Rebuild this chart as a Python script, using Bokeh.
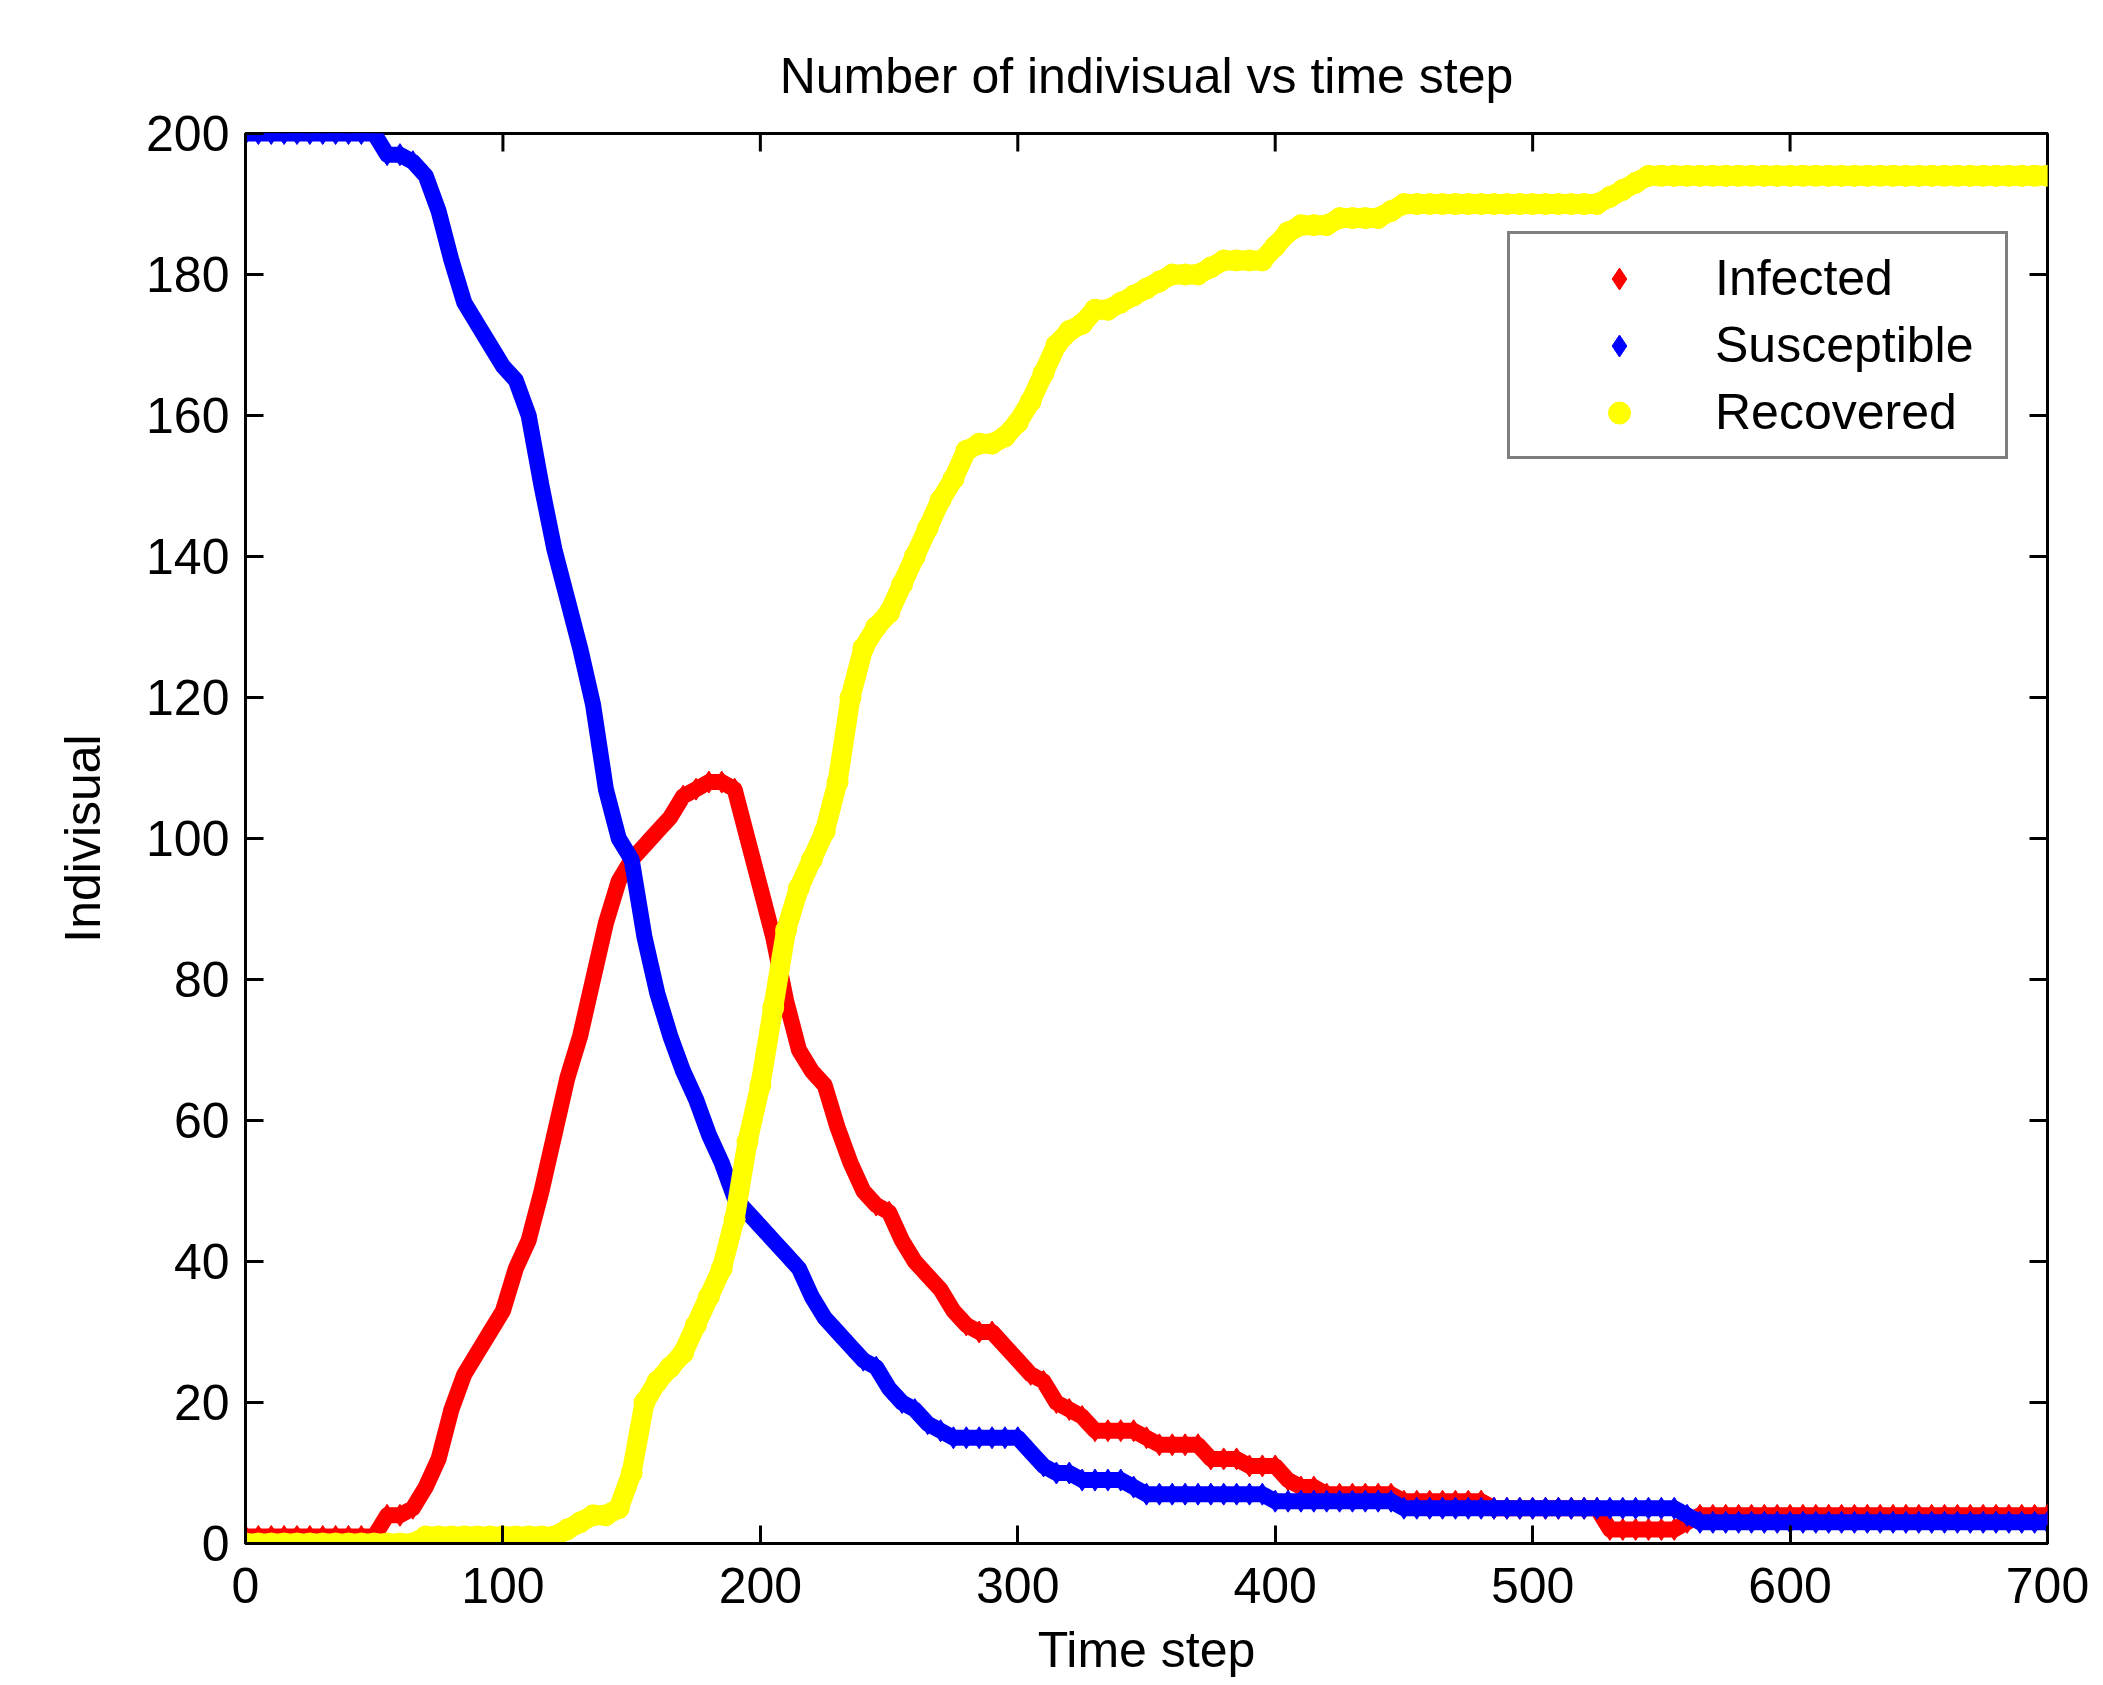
import math
from bokeh.plotting import figure
from bokeh.models import (Range1d, LinearAxis, FixedTicker, Legend,
                          LegendItem, ColumnDataSource)
from bokeh.embed import file_html
from bokeh.resources import INLINE

# ---------------- data ----------------
time_step = list(range(0, 701, 5))

infected = [
    1, 1, 1, 1, 1, 1, 1, 1, 1, 1,                 # 0-45
    1, 4, 4, 5, 8, 12, 19, 24, 27, 30,            # 50-95
    33, 39, 43, 50, 58, 66, 72, 80, 88, 94,       # 100-145
    97, 99, 101, 103, 106, 107, 108, 108, 107, 100,  # 150-195
    93, 86, 77, 70, 67, 65, 59, 54, 50, 48,       # 200-245
    47, 43, 40, 38, 36, 33, 31, 30, 30, 28,       # 250-295
    26, 24, 23, 20, 19, 18, 16, 16, 16, 16,       # 300-345
    15, 14, 14, 14, 14, 12, 12, 12, 11, 11,       # 350-395
    11, 9, 8, 8, 7, 7, 7, 7, 7, 7,                # 400-445
    6, 6, 6, 6, 6, 6, 6, 5, 5, 5,                 # 450-495
    5, 5, 5, 5, 5, 5, 2, 2, 2, 2,                 # 500-545
    2, 2, 3, 4, 4, 4, 4, 4, 4, 4,                 # 550-595
    4, 4, 4, 4, 4, 4, 4, 4, 4, 4,                 # 600-645
    4, 4, 4, 4, 4, 4, 4, 4, 4, 4,                 # 650-695
    4,                                            # 700
]

susceptible = [
    200, 200, 200, 200, 200, 200, 200, 200, 200, 200,
    200, 197, 197, 196, 194, 189, 182, 176, 173, 170,
    167, 165, 160, 150, 141, 134, 127, 119, 107, 100,
    97, 86, 78, 72, 67, 63, 58, 54, 49, 47,
    45, 43, 41, 39, 35, 32, 30, 28, 26, 25,
    22, 20, 19, 17, 16, 15, 15, 15, 15, 15,
    15, 13, 11, 10, 10, 9, 9, 9, 9, 8,
    7, 7, 7, 7, 7, 7, 7, 7, 7, 7,
    6, 6, 6, 6, 6, 6, 6, 6, 6, 6,
    5, 5, 5, 5, 5, 5, 5, 5, 5, 5,
    5, 5, 5, 5, 5, 5, 5, 5, 5, 5,
    5, 5, 4, 3, 3, 3, 3, 3, 3, 3,
    3, 3, 3, 3, 3, 3, 3, 3, 3, 3,
    3, 3, 3, 3, 3, 3, 3, 3, 3, 3,
    3,
]

recovered = [
    0, 0, 0, 0, 0, 0, 0, 0, 0, 0,
    0, 0, 0, 0, 1, 1, 1, 1, 1, 1,
    1, 1, 1, 1, 1, 2, 3, 4, 4, 5,
    10, 20, 23, 25, 27, 31, 35, 39, 46, 57,
    65, 76, 87, 93, 97, 101, 108, 120, 127, 130,
    132, 136, 140, 144, 148, 151, 155, 156, 156, 157,
    159, 162, 166, 170, 172, 173, 175, 175, 176, 177,
    178, 179, 180, 180, 180, 181, 182, 182, 182, 182,
    184, 186, 187, 187, 187, 188, 188, 188, 188, 189,
    190, 190, 190, 190, 190, 190, 190, 190, 190, 190,
    190, 190, 190, 190, 190, 190, 191, 192, 193, 194,
    194, 194, 194, 194, 194, 194, 194, 194, 194, 194,
    194, 194, 194, 194, 194, 194, 194, 194, 194, 194,
    194, 194, 194, 194, 194, 194, 194, 194, 194, 194,
    194,
]

series_names = ["Infected", "Susceptible", "Recovered"]
x_ticks = [0, 100, 200, 300, 400, 500, 600, 700]
y_ticks = [0, 20, 40, 60, 80, 100, 120, 140, 160, 180, 200]
title_text = "Number of indivisual vs time step"
x_label = "Time step"
y_label = "Indivisual"

assert len(time_step) == len(infected) == len(susceptible) == len(recovered)

# ---------------- styling ----------------
FONT = "Liberation Sans"
FS = "50px"
RED, BLUE, YELLOW = "#ff0000", "#0000ff", "#ffff00"
X0, X1 = x_ticks[0], x_ticks[-1]
Y0, Y1 = y_ticks[0], y_ticks[-1]

p = figure(width=2096, height=1680, output_backend="svg", toolbar_location=None,
           x_range=Range1d(X0, X1), y_range=Range1d(Y0, Y1),
           x_axis_location=None, y_axis_location=None,
           min_border_left=245, min_border_right=49,
           min_border_top=133, min_border_bottom=133)
p.background_fill_color = "white"
p.border_fill_color = "white"
p.outline_line_color = "black"
p.outline_line_width = 3
p.grid.grid_line_color = None

p.title.text = title_text
p.title.text_font = FONT
p.title.text_font_size = FS
p.title.text_font_style = "normal"
p.title.text_color = "black"
p.title.align = "center"
p.title.standoff = 60


def make_axis(ticks, standoff):
    ax = LinearAxis(ticker=FixedTicker(ticks=ticks))
    ax.major_tick_in = 18
    ax.major_tick_out = 0
    ax.minor_tick_in = 0
    ax.minor_tick_out = 0
    ax.axis_line_width = 3
    ax.axis_line_color = "black"
    ax.major_tick_line_width = 3
    ax.major_tick_line_color = "black"
    ax.major_label_text_font = FONT
    ax.major_label_text_color = "black"
    ax.major_label_text_font_size = FS
    ax.major_label_standoff = standoff
    ax.axis_label_text_font = FONT
    ax.axis_label_text_font_size = FS
    ax.axis_label_text_font_style = "normal"
    ax.axis_label_text_color = "black"
    return ax


bottom = make_axis(x_ticks, 24)
bottom.axis_label = x_label
bottom.axis_label_standoff = 16
left = make_axis(y_ticks, 16)
left.axis_label = y_label
left.axis_label_standoff = 32
p.add_layout(bottom, "below")
p.add_layout(left, "left")

# inward tick marks on the top and right edges of the box
p.ray(x=x_ticks, y=[Y1] * len(x_ticks), length=18, length_units="screen",
      angle=-math.pi / 2, line_color="black", line_width=3)
p.ray(x=[X1] * len(y_ticks), y=y_ticks, length=18, length_units="screen",
      angle=math.pi, line_color="black", line_width=3)

src = ColumnDataSource(dict(t=time_step, inf=infected, sus=susceptible, rec=recovered))

p.line("t", "inf", source=src, line_color=RED, line_width=16, line_join="round")
r_inf = p.scatter("t", "inf", source=src, marker="diamond", size=22,
                  fill_color=RED, line_color=RED)
p.line("t", "sus", source=src, line_color=BLUE, line_width=16, line_join="round")
r_sus = p.scatter("t", "sus", source=src, marker="diamond", size=22,
                  fill_color=BLUE, line_color=BLUE)
p.line("t", "rec", source=src, line_color=YELLOW, line_width=20, line_join="round")
r_rec = p.scatter("t", "rec", source=src, marker="circle", size=21,
                  fill_color=YELLOW, line_color=YELLOW)

legend = Legend(items=[LegendItem(label=series_names[0], renderers=[r_inf]),
                       LegendItem(label=series_names[1], renderers=[r_sus]),
                       LegendItem(label=series_names[2], renderers=[r_rec])],
                location=(1262, 1084), orientation="vertical",
                padding=15, spacing=9, margin=0,
                glyph_width=188, glyph_height=55,
                label_standoff=2, label_width=275, label_height=55,
                label_text_font=FONT, label_text_font_size=FS,
                label_text_color="black",
                border_line_color="black", border_line_width=3,
                background_fill_color="white", background_fill_alpha=1)
p.add_layout(legend)

open("out.html", "w").write(file_html(p, INLINE))
